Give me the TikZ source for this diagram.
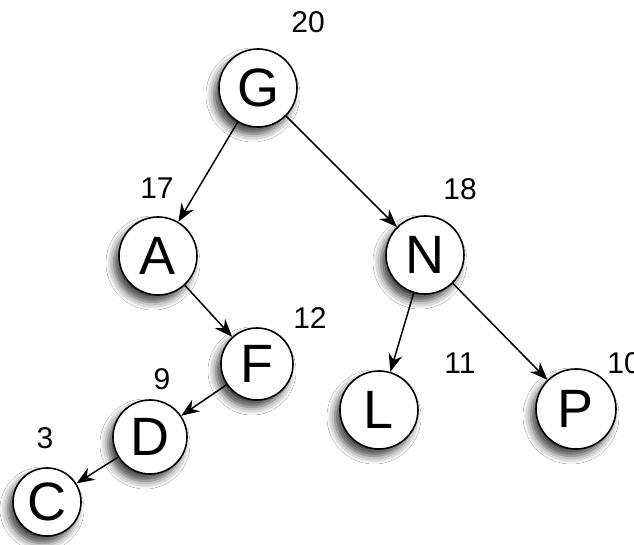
\documentclass[tikz,border=0pt]{standalone}
\usepackage{fontspec}
\setmainfont{Liberation Sans}
\usetikzlibrary{arrows.meta,shadows.blur}
\begin{document}
\begin{tikzpicture}[x=1pt,y=-1pt,
  treenode/.style={circle,draw=black,line width=1.6pt,fill=white,
    minimum size=78pt,inner sep=0pt,font=\fontsize{54}{54}\selectfont,
    blur shadow={shadow xshift=-5pt,shadow yshift=-7pt,shadow blur radius=8pt,shadow opacity=75}},
  weight/.style={font=\fontsize{30}{30}\selectfont},
  edge/.style={line width=1.5pt,-{Stealth[length=18pt,width=14pt]}}]
\clip (0,0) rectangle (634,545);
\fill[white] (0,0) rectangle (634,545);
% tree nodes
\node[treenode] (G) at (258,88) {G};
\node[treenode] (A) at (158,256) {A};
\node[treenode] (N) at (425,255) {N};
\node[treenode,minimum size=72pt] (F) at (257,364) {F};
\node[treenode,minimum size=74pt] (D) at (150,437) {D};
\node[treenode,minimum size=68pt] (C) at (47,502) {C};
\node[treenode] (L) at (379,410) {L};
\node[treenode,minimum size=80pt] (P) at (576,409) {P};
% subtree weights
\node[weight] (wG) at (308,22) {20};
\node[weight] (wA) at (157,188) {17};
\node[weight] (wN) at (460,189) {18};
\node[weight] (wF) at (310,318) {12};
\node[weight] (wD) at (162,379) {9};
\node[weight] (wC) at (45,438) {3};
\node[weight] (wL) at (460,363) {11};
\node[weight] (wP) at (624,363) {10};
% edges
\draw[edge] (G) -- (A);
\draw[edge] (G) -- (N);
\draw[edge] (A) -- (F);
\draw[edge] (F) -- (D);
\draw[edge] (D) -- (C);
\draw[edge] (N) -- (L);
\draw[edge] (N) -- (P);
\end{tikzpicture}
\end{document}
